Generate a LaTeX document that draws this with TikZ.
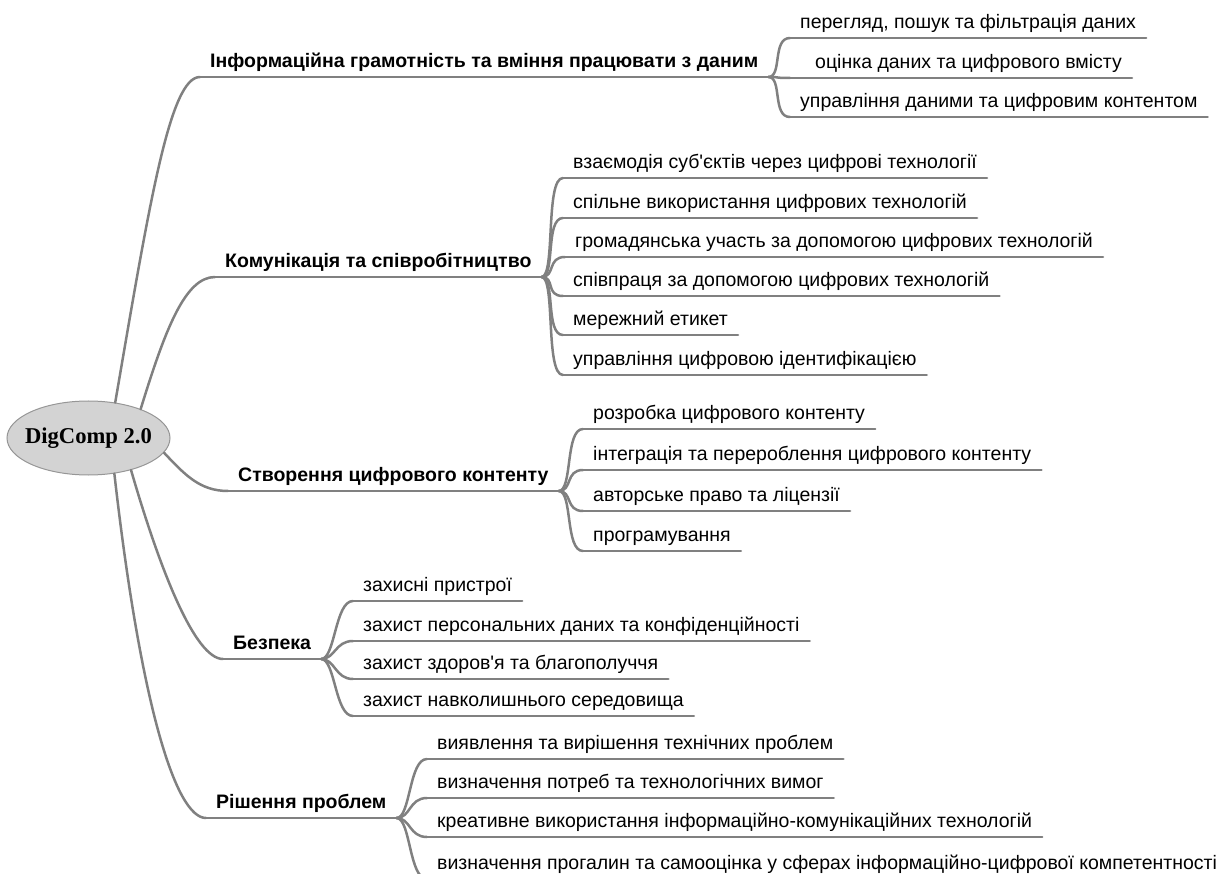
\documentclass[tikz,border=0pt]{standalone}
\usepackage{fontspec}
\setmainfont{Liberation Sans}[Ligatures=TeXOff]
\newfontfamily\rootfont{Liberation Serif}
\usetikzlibrary{shapes.geometric}
\definecolor{linegray}{RGB}{128,128,128}
\definecolor{rootfill}{RGB}{211,211,211}
\definecolor{rootedge}{RGB}{150,150,150}
\begin{document}
\begin{tikzpicture}[x=1pt,y=-1pt,
  conn/.style={draw=linegray, line width=2.5pt, line cap=round},
  leaf/.style={anchor=south west, inner xsep=10pt, inner ysep=0pt, text height=14pt, text depth=9pt, font=\fontsize{19.5}{22}\selectfont},
  branch/.style={leaf, font=\fontsize{19.5}{22}\selectfont\bfseries},
  rootnode/.style={ellipse, fill=rootfill, draw=rootedge, line width=1pt, minimum width=163pt, minimum height=74pt, inner sep=0pt, font=\rootfont\bfseries\fontsize{22.6}{26}\selectfont}]
\useasboundingbox (0,0) rectangle (1229,874);

\node[rootnode] (root) at (88.5,438) {\makebox[0pt]{DigComp 2.0}};

% branches
\node[branch] (b1) at (200,77) {Інформаційна грамотність та вміння працювати з даним};
\node[branch] (b2) at (215,277) {Комунікація та співробітництво};
\node[branch] (b3) at (228,491) {Створення цифрового контенту};
\node[branch] (b4) at (223,659) {Безпека};
\node[branch] (b5) at (206,818) {Рішення проблем};

% leaves of b1
\node[leaf] (b1a) at (790,38) {перегляд, пошук та фільтрація даних};
\node[leaf] (b1b) at (790,78) {\hspace*{15pt}оцінка даних та цифрового вмісту};
\node[leaf] (b1c) at (790,117) {управління даними та цифровим контентом};
% leaves of b2
\node[leaf] (b2a) at (563,178) {взаємодія суб'єктів через цифрові технології};
\node[leaf] (b2b) at (563,218) {спільне використання цифрових технологій};
\node[leaf] (b2c) at (565,257) {громадянська участь за допомогою цифрових технологій};
\node[leaf] (b2d) at (563,296) {співпраця за допомогою цифрових технологій};
\node[leaf] (b2e) at (563,335) {мережний етикет};
\node[leaf] (b2f) at (563,375) {управління цифровою ідентифікацією};
% leaves of b3
\node[leaf] (b3a) at (583,429) {розробка цифрового контенту};
\node[leaf] (b3b) at (583,470) {інтеграція та перероблення цифрового контенту};
\node[leaf] (b3c) at (583,511) {авторське право та ліцензії};
\node[leaf] (b3d) at (583,551) {програмування};
% leaves of b4
\node[leaf] (b4a) at (353,601) {захисні пристрої};
\node[leaf] (b4b) at (353,641) {захист персональних даних та конфіденційності};
\node[leaf] (b4c) at (353,679) {захист здоров'я та благополуччя};
\node[leaf] (b4d) at (353,716) {захист навколишнього середовища};
% leaves of b5
\node[leaf] (b5a) at (427,759) {виявлення та вирішення технічних проблем};
\node[leaf] (b5b) at (427,798) {визначення потреб та технологічних вимог};
\node[leaf] (b5c) at (427,837) {креативне використання інформаційно-комунікаційних технологій};
\node[leaf] (b5d) at (427,879) {визначення прогалин та самооцінка у сферах інформаційно-цифрової компетентності};

% underlines
\foreach \n in {b1,b2,b3,b4,b5,b1a,b1b,b1c,b2a,b2b,b2c,b2d,b2e,b2f,b3a,b3b,b3c,b3d,b4a,b4b,b4c,b4d,b5a,b5b,b5c,b5d}
  \draw[conn] (\n.south west) -- (\n.south east);

% root connectors
\draw[conn] (root.53) .. controls (150,200) and (170,77) .. (b1.south west);
\draw[conn] (root.29) .. controls (165,330) and (185,277) .. (b2.south west);
\draw[conn] (root.-11) .. controls (185,475) and (200,491) .. (b3.south west);
\draw[conn] (root.-37) .. controls (160,570) and (195,659) .. (b4.south west);
\draw[conn] (root.-54) .. controls (140,700) and (175,818) .. (b5.south west);

% fans
\foreach \c in {b1a,b1b,b1c}
  \draw[conn] (b1.south east) .. controls +(14,0) and +(-18,0) .. (\c.south west);
\foreach \c in {b2a,b2b,b2c,b2d,b2e,b2f}
  \draw[conn] (b2.south east) .. controls +(14,0) and +(-18,0) .. (\c.south west);
\foreach \c in {b3a,b3b,b3c,b3d}
  \draw[conn] (b3.south east) .. controls +(14,0) and +(-18,0) .. (\c.south west);
\foreach \c in {b4a,b4b,b4c,b4d}
  \draw[conn] (b4.south east) .. controls +(14,0) and +(-18,0) .. (\c.south west);
\foreach \c in {b5a,b5b,b5c,b5d}
  \draw[conn] (b5.south east) .. controls +(14,0) and +(-18,0) .. (\c.south west);
\end{tikzpicture}
\end{document}
